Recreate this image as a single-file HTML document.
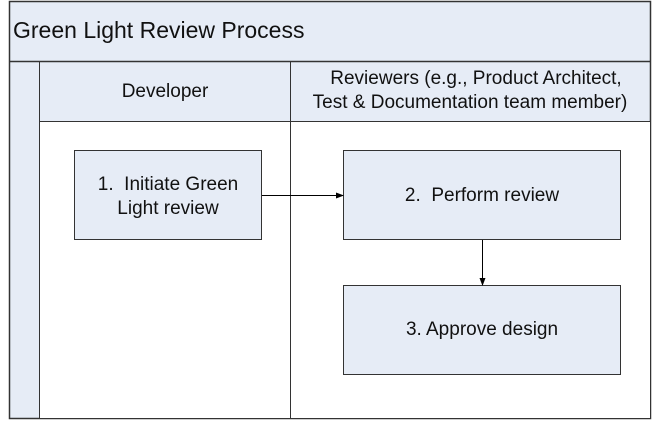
<!DOCTYPE html>
<html><head><style>
body{margin:0;width:652px;height:421px;background:#fff;overflow:hidden}
text{font-family:"Liberation Sans",Arial,sans-serif;fill:#111}
</style></head><body>
<svg width="652" height="421" xmlns="http://www.w3.org/2000/svg" font-family="Liberation Sans, Arial, sans-serif">
<defs><marker id="a" markerWidth="8" markerHeight="8" refX="7" refY="4" orient="auto" markerUnits="userSpaceOnUse"><path d="M0,1 L8,4 L0,7 z" fill="#000"/></marker></defs>
<rect x="9.5" y="1.5" width="641" height="417" fill="#e6ecf6" stroke="#333" stroke-width="1.5"/>
<rect x="39.5" y="121.5" width="611" height="297" fill="#fff" stroke="#333"/>
<line x1="9.5" y1="61.5" x2="650.5" y2="61.5" stroke="#333" stroke-width="1.5"/>
<line x1="39.5" y1="61.5" x2="39.5" y2="418.5" stroke="#333"/>
<line x1="290.5" y1="61.5" x2="290.5" y2="418.5" stroke="#333"/>
<text x="13" y="38" font-size="23">Green Light Review Process</text>
<text x="165" y="97" font-size="19" text-anchor="middle">Developer</text>
<text x="476" y="84" font-size="19" text-anchor="middle">Reviewers (e.g., Product Architect,</text>
<text x="470" y="108" font-size="19" text-anchor="middle">Test &amp; Documentation team member)</text>
<rect x="74.5" y="150.5" width="187" height="89" fill="#e6ecf6" stroke="#333"/>
<text x="168" y="190" font-size="19" text-anchor="middle">1.&#160; Initiate Green</text>
<text x="168" y="214" font-size="19" text-anchor="middle">Light review</text>
<rect x="343.5" y="150.5" width="277" height="89" fill="#e6ecf6" stroke="#333"/>
<text x="482" y="201" font-size="19" text-anchor="middle">2.&#160; Perform review</text>
<rect x="343.5" y="285.5" width="277" height="89" fill="#e6ecf6" stroke="#333"/>
<text x="482" y="335" font-size="19" text-anchor="middle">3. Approve design</text>
<line x1="262" y1="195.5" x2="343" y2="195.5" stroke="#000" marker-end="url(#a)"/>
<line x1="482.5" y1="240" x2="482.5" y2="285" stroke="#000" marker-end="url(#a)"/>
</svg>
</body></html>
